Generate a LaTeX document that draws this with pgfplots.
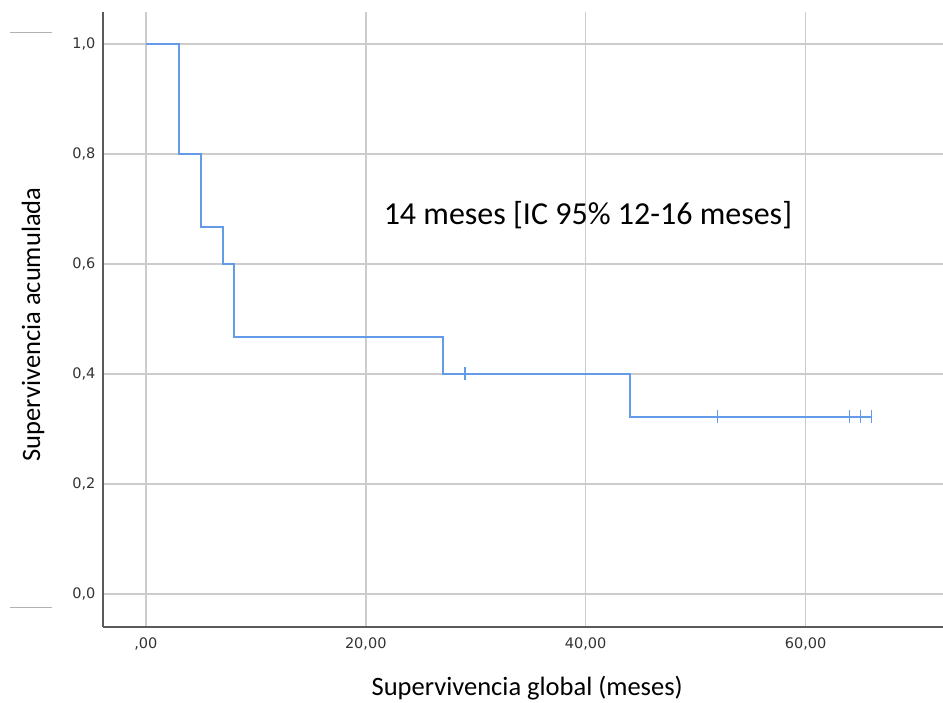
\documentclass[border=0pt]{standalone}
\usepackage{pgfplots}
\pgfplotsset{compat=1.18}
\usepackage{fontspec}
\setmainfont{Carlito}
\newfontfamily\tickfont{DejaVu Sans}
\definecolor{kmblue}{RGB}{100,155,232}
\definecolor{gridgray}{RGB}{204,204,204}
\definecolor{axisgray}{RGB}{90,90,90}
\begin{document}
\begin{tikzpicture}[x=1pt,y=1pt]
\path[use as bounding box] (0,0) rectangle (943,702);
% short marks at the left margin
\draw[gray!60, line width=0.8pt] (10,670) -- (52,670);
\draw[gray!60, line width=0.8pt] (10,95) -- (52,95);
\begin{axis}[
  at={(103pt,75pt)}, anchor=south west,
  scale only axis, width=840pt, height=615pt,
  xmin=-3.9, xmax=72.5, ymin=-0.06, ymax=1.058,
  axis lines*=left,
  axis line style={axisgray, line width=1.2pt},
  xtick={0,20,40,60}, xticklabels={{,00},{20,00},{40,00},{60,00}},
  ytick={0,0.2,0.4,0.6,0.8,1.0}, yticklabels={{0,0},{0,2},{0,4},{0,6},{0,8},{1,0}},
  major tick length=0pt,
  /pgf/number format/assume math mode=true,
  ticklabel style={font=\tickfont\fontsize{14.5}{16}\selectfont, text=black!80},
  xticklabel style={yshift=-7pt},
  yticklabel style={xshift=-4pt},
  grid=major,
  major grid style={gridgray, line width=1.6pt},
  xlabel={Supervivencia global (meses)},
  ylabel={Supervivencia acumulada},
  label style={font=\fontsize{26.5}{30}\selectfont},
  xlabel style={at={(axis description cs:0.505,-0.1)}, anchor=center},
  ylabel style={at={(axis description cs:-0.0833,0.492)}, anchor=center},
  clip=false,
]
% Kaplan-Meier survival curve
\addplot[kmblue, line width=1.8pt, const plot] coordinates {
  (0,1.0) (3,0.8) (5,0.6667) (7,0.6) (8,0.4667) (27,0.4) (44,0.3222) (66,0.3222)
};
% censored observations
\addplot[kmblue, line width=1.7pt, only marks, mark=|, mark size=6.5pt] coordinates {
  (29,0.4) (52,0.3222) (64,0.3222) (65,0.3222) (66,0.3222)
};
\node[font=\fontsize{32}{36}\selectfont, anchor=center] at (axis cs:40.2,0.689) {14 meses [IC 95\% 12-16 meses]};
\end{axis}
\end{tikzpicture}
\end{document}
